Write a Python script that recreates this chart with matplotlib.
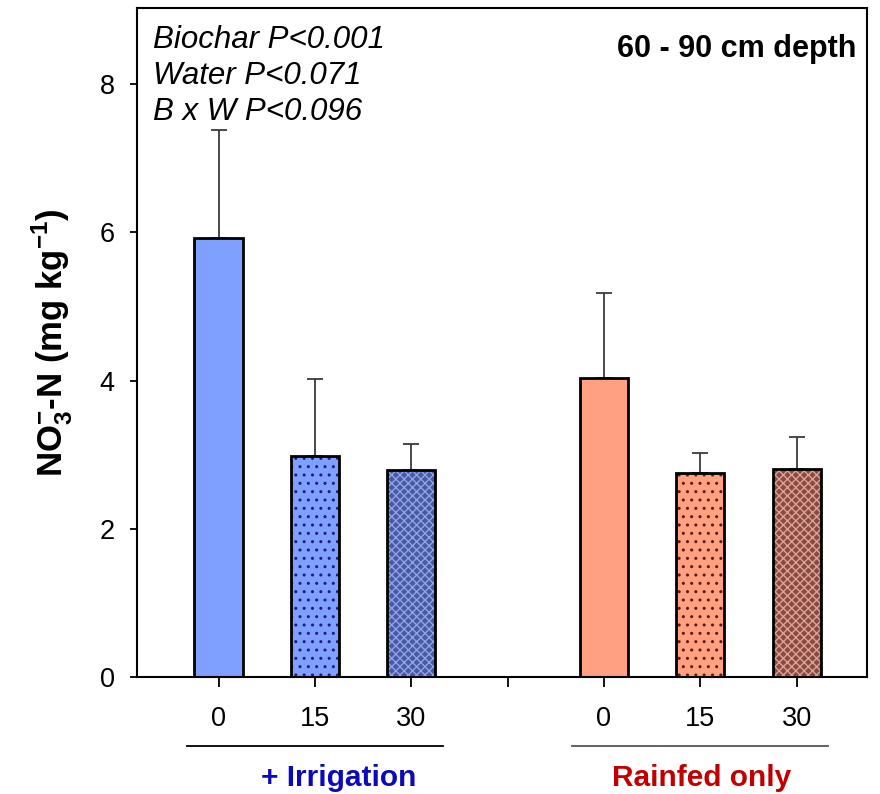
import matplotlib.pyplot as plt
import matplotlib.transforms as mtransforms

plt.rcParams['font.family'] = ['Liberation Sans', 'DejaVu Sans']
plt.rcParams['mathtext.fontset'] = 'custom'
plt.rcParams['mathtext.rm'] = 'Liberation Sans'
plt.rcParams['mathtext.bf'] = 'Liberation Sans:bold'
plt.rcParams['hatch.linewidth'] = 1.0

# biochar rate (t/ha) under each water regime
rates = ["0", "15", "30"]
groups = ["+ Irrigation", "Rainfed only"]
irrigated = [5.92, 2.98, 2.79]
irrigated_se = [1.46, 1.04, 0.35]
rainfed = [4.03, 2.75, 2.81]
rainfed_se = [1.15, 0.27, 0.43]

stats_lines = ["Biochar P<0.001", "Water P<0.071", "B x W P<0.096"]

blue_fill = ["#80a0ff", "#80a0ff", "#4a5a9e"]
blue_hatch = [None, "#1c1c7a", "#8ea3ec"]
red_fill = ["#ffa080", "#ffa080", "#844c44"]
red_hatch = [None, "#5a1a1a", "#e2a091"]
hatches = [None, "..", "xxxx"]

fig = plt.figure(figsize=(8.8, 7.94), dpi=100)
ax = fig.add_axes([0.1557, 0.1474, 0.8295, 0.8426])

pos_irr = [1, 2, 3]
pos_rain = [5, 6, 7]
width = 0.5


def draw_group(pos, vals, errs, fills, hcols):
    for p, v, e, fc, hc, h in zip(pos, vals, errs, fills, hcols, hatches):
        ax.bar(p, v, width, color=fc, zorder=2)
        if h:
            ax.bar(p, v, width, color="none", edgecolor=hc, hatch=h,
                   linewidth=0, zorder=3)
        ax.bar(p, v, width, color="none", edgecolor="black",
               linewidth=2, zorder=4)
        ax.errorbar(p, v, yerr=[[0], [e]], color="#3a3a3a", lw=1.3,
                    capsize=6, capthick=1.3, zorder=1)


draw_group(pos_irr, irrigated, irrigated_se, blue_fill, blue_hatch)
draw_group(pos_rain, rainfed, rainfed_se, red_fill, red_hatch)

ax.set_xlim(0.154, 7.73)
ax.set_ylim(0, 9.03)
ax.set_yticks([0, 2, 4, 6, 8])
ax.set_xticks([1, 2, 3, 4, 5, 6, 7])
ax.set_xticklabels(rates + [""] + rates)
ax.tick_params(axis="y", direction="out", length=5, width=1.3,
               labelsize=19.5, pad=11)
ax.tick_params(axis="x", direction="out", length=7, width=1.3,
               labelsize=19.5, pad=14)
for s in ax.spines.values():
    s.set_linewidth(1.5)

ax.set_ylabel(r"NO$_\mathbf{3}^{\mathbf{-}}$-N (mg kg$^{\mathbf{-1}}$)",
              fontsize=25, fontweight="bold", labelpad=18)

# group underlines and labels below the rate ticks
trans = mtransforms.blended_transform_factory(ax.transData, ax.transAxes)
ax.plot([0.67, 3.33], [-0.103, -0.103], color="black", lw=1.3,
        transform=trans, clip_on=False)
ax.plot([4.67, 7.33], [-0.103, -0.103], color="#555555", lw=1.3,
        transform=trans, clip_on=False)
ax.text(2.25, -0.151, groups[0], transform=trans, ha="center",
        va="center", fontsize=21.5, fontweight="bold", color="#0a0ab8")
ax.text(6.01, -0.151, groups[1], transform=trans, ha="center",
        va="center", fontsize=21.5, fontweight="bold", color="#c00000")

ax.text(0.022, 0.974, "\n".join(stats_lines), transform=ax.transAxes,
        ha="left", va="top", fontsize=22.5, style="italic",
        linespacing=1.25)
ax.text(0.986, 0.938, "60 - 90 cm depth", transform=ax.transAxes,
        ha="right", va="center", fontsize=22, fontweight="bold")

fig.savefig("out.png", dpi=100)
